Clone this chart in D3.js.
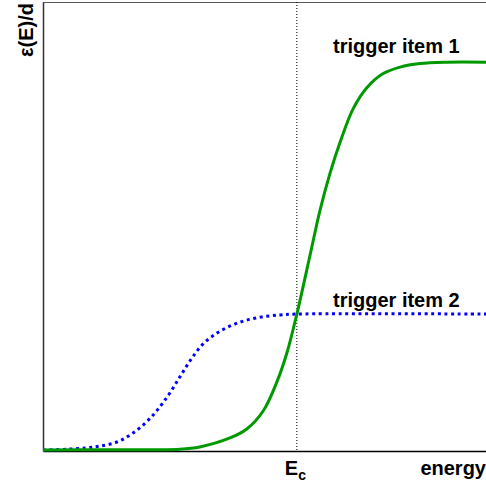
<!DOCTYPE html>
<html>
<head>
<meta charset="utf-8">
<script src="https://cdn.jsdelivr.net/npm/d3@7"></script>
<style>
  body { margin: 0; background: #fff; }
  text { font-family: "Liberation Sans", Arial, sans-serif; font-weight: bold; fill: #000; }
</style>
</head>
<body>
<svg width="486" height="485"></svg>
<script>
const svg = d3.select("svg");
const margin = { top: 2, right: 0, bottom: 34, left: 43 };
const width = +svg.attr("width") - margin.left - margin.right;
const height = +svg.attr("height") - margin.top - margin.bottom;

// energy (arbitrary units) and efficiency
const item1Energy = [0, 1.29, 3.09, 3.54, 4.22, 4.60, 4.97, 5.28, 5.51, 5.73, 6.03, 6.25, 6.48, 6.70, 7.00, 7.31, 7.67, 8.06, 8.51, 9.12, 10];
const item1Eff    = [0.002, 0.003, 0.004, 0.009, 0.029, 0.049, 0.089, 0.154, 0.220, 0.305, 0.437, 0.535, 0.619, 0.686, 0.762, 0.809, 0.840, 0.855, 0.863, 0.866, 0.866];
const item2Energy = [0, 0.54, 0.99, 1.29, 1.67, 2.03, 2.42, 2.80, 3.09, 3.32, 3.61, 4.00, 4.45, 4.90, 5.35, 5.73, 10];
const item2Eff    = [0.002, 0.004, 0.007, 0.011, 0.020, 0.040, 0.073, 0.120, 0.165, 0.201, 0.238, 0.267, 0.287, 0.298, 0.303, 0.305, 0.305];
const Ec = 5.73;
const labels = ["trigger item 1", "trigger item 2"];

const x = d3.scaleLinear().domain([0, 10]).range([0, width]);
const y = d3.scaleLinear().domain([0, 1]).range([height, 0]);

const g = svg.append("g").attr("transform", `translate(${margin.left},${margin.top})`);

// frame top line
g.append("line")
    .attr("x1", 0).attr("x2", width)
    .attr("y1", 0.5).attr("y2", 0.5)
    .attr("stroke", "#555").attr("stroke-width", 1);

g.append("g")
    .attr("transform", `translate(0,${height})`)
    .call(d3.axisBottom(x).ticks(0).tickSizeOuter(0))
    .select(".domain").attr("stroke", "#000").attr("stroke-width", 1.5);

g.append("g")
    .call(d3.axisLeft(y).ticks(0).tickSizeOuter(0))
    .select(".domain").attr("stroke", "#333").attr("stroke-width", 1.5);

// Ec marker
g.append("line")
    .attr("x1", x(Ec)).attr("x2", x(Ec))
    .attr("y1", 0).attr("y2", height)
    .attr("stroke", "#000").attr("stroke-width", 1)
    .attr("stroke-dasharray", "1,2");

const line = d3.line()
    .x(d => x(d[0]))
    .y(d => y(d[1]))
    .curve(d3.curveCatmullRom.alpha(0.5));

g.append("path")
    .datum(d3.zip(item2Energy, item2Eff))
    .attr("fill", "none")
    .attr("stroke", "#0000ff")
    .attr("stroke-width", 3)
    .attr("stroke-dasharray", "3,3.6")
    .attr("d", line);

g.append("path")
    .datum(d3.zip(item1Energy, item1Eff))
    .attr("fill", "none")
    .attr("stroke", "#009a00")
    .attr("stroke-width", 3)
    .attr("d", line);

// series labels
g.append("text")
    .attr("x", 290).attr("y", 51)
    .style("font-size", "20px")
    .text(labels[0]);

g.append("text")
    .attr("x", 290).attr("y", 305)
    .style("font-size", "20px")
    .text(labels[1]);

// axis labels
const ec = g.append("text")
    .attr("x", x(Ec) - 12).attr("y", height + 24)
    .style("font-size", "20px")
    .text("E");
ec.append("tspan")
    .attr("dy", 5)
    .style("font-size", "14px")
    .text("c");

g.append("text")
    .attr("x", width).attr("y", height + 24)
    .attr("text-anchor", "end")
    .style("font-size", "20px")
    .text("energy");

svg.append("text")
    .attr("transform", "translate(33,3) rotate(-90)")
    .attr("text-anchor", "end")
    .style("font-size", "20px")
    .text("ε(E)/d");
</script>
</body>
</html>
